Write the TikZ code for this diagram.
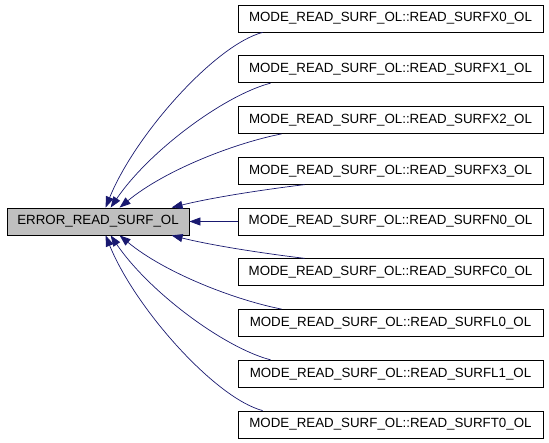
\documentclass[tikz,border=0pt]{standalone}
\usepackage{fontspec}
\setmainfont{Liberation Sans}
\usetikzlibrary{arrows.meta}
\definecolor{edgecol}{HTML}{191970}
\definecolor{rootfill}{HTML}{BFBFBF}
\begin{document}
\begin{tikzpicture}[x=1pt,y=-1pt,
  box/.style={draw=black, line width=0.8pt, minimum height=27pt, inner sep=0pt,
    font=\fontsize{13.33}{16}\selectfont},
  rbox/.style={box, minimum width=305pt},
  edge/.style={draw=edgecol, line width=0.7pt, -{Triangle[length=11pt,width=8pt]}}]
\useasboundingbox (0,0) rectangle (549,443);
\node[box, fill=rootfill, minimum width=182pt] (root) at (98,221.5) {ERROR\_READ\_SURF\_OL};
\node[rbox] (r1) at (390.5,18.5) {MODE\_READ\_SURF\_OL::READ\_SURFX0\_OL};
\node[rbox] (r2) at (390.5,69.25) {MODE\_READ\_SURF\_OL::READ\_SURFX1\_OL};
\node[rbox] (r3) at (390.5,120) {MODE\_READ\_SURF\_OL::READ\_SURFX2\_OL};
\node[rbox] (r4) at (390.5,170.75) {MODE\_READ\_SURF\_OL::READ\_SURFX3\_OL};
\node[rbox] (r5) at (390.5,221.5) {MODE\_READ\_SURF\_OL::READ\_SURFN0\_OL};
\node[rbox] (r6) at (390.5,272.25) {MODE\_READ\_SURF\_OL::READ\_SURFC0\_OL};
\node[rbox] (r7) at (390.5,323) {MODE\_READ\_SURF\_OL::READ\_SURFL0\_OL};
\node[rbox] (r8) at (390.5,373.75) {MODE\_READ\_SURF\_OL::READ\_SURFL1\_OL};
\node[rbox] (r9) at (390.5,424.5) {MODE\_READ\_SURF\_OL::READ\_SURFT0\_OL};
\draw[edge] ([xshift=25pt]r1.south west) .. controls (215,45) and (135,135) .. ([xshift=99pt]root.north west);
\draw[edge] ([xshift=33pt]r2.south west) .. controls (225,95) and (150,150) .. ([xshift=104pt]root.north west);
\draw[edge] ([xshift=44pt]r3.south west) .. controls (235,143) and (165,170) .. ([xshift=113pt]root.north west);
\draw[edge] ([xshift=67pt]r4.south west) .. controls (260,190) and (210,198) .. ([xshift=165pt]root.north west);
\draw[edge] (r5.west) -- (root.east);
\draw[edge] ([xshift=67pt]r6.north west) .. controls (260,253) and (210,245) .. ([xshift=165pt]root.south west);
\draw[edge] ([xshift=44pt]r7.north west) .. controls (235,300) and (165,273) .. ([xshift=113pt]root.south west);
\draw[edge] ([xshift=33pt]r8.north west) .. controls (225,348) and (150,293) .. ([xshift=104pt]root.south west);
\draw[edge] ([xshift=25pt]r9.north west) .. controls (215,398) and (135,308) .. ([xshift=99pt]root.south west);
\end{tikzpicture}
\end{document}
